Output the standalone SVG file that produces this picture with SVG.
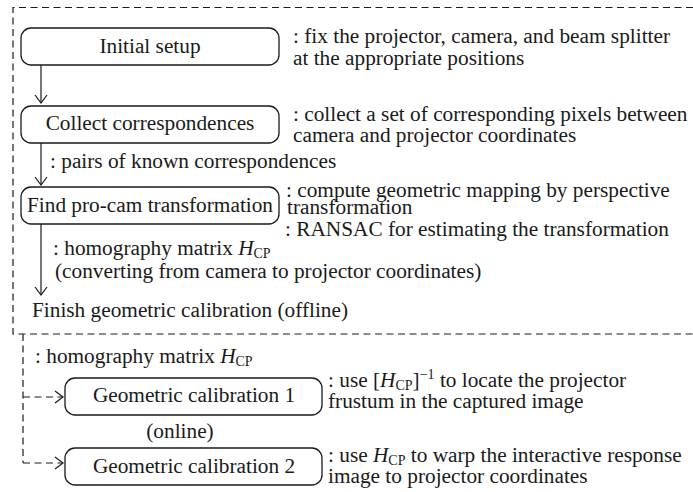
<svg xmlns="http://www.w3.org/2000/svg" width="693" height="492" viewBox="0 0 693 492">
<style>
  text { font-family: "Liberation Serif", "Times New Roman", serif; font-size: 21.3px; fill: #1a1a1a; }
  .box { fill: #ffffff; stroke: #1a1a1a; stroke-width: 1.3; }
  .mid { text-anchor: middle; }
  .edge { fill: none; stroke: #1a1a1a; stroke-width: 1.2; }
  .dash { fill: none; stroke: #1a1a1a; stroke-width: 1.2; stroke-dasharray: 7 4.5; }
  .it { font-style: italic; }
  .sub { font-size: 14px; }
</style>
<defs>
  <marker id="arr" viewBox="-9 -7 11 14" refX="0" refY="0" markerWidth="11" markerHeight="14" markerUnits="userSpaceOnUse" orient="auto" overflow="visible">
    <path d="M -8,-6 L 0,0 L -8,6" fill="none" stroke="#1a1a1a" stroke-width="1.2"/>
  </marker>
</defs>
<rect width="693" height="492" fill="#ffffff"/>

<g id="regions">
  <path class="dash" d="M 693,7.5 H 13 V 334 H 693"/>
</g>

<g id="connectors">
  <line class="edge" x1="41" y1="65" x2="41" y2="103" marker-end="url(#arr)"/>
  <line class="edge" x1="41" y1="143" x2="41" y2="185" marker-end="url(#arr)"/>
  <line class="edge" x1="41" y1="224" x2="41" y2="295" marker-end="url(#arr)"/>
  <path class="dash" d="M 23,334 V 463"/>
  <path class="dash" d="M 23,397 H 63" marker-end="url(#arr)"/>
  <path class="dash" d="M 23,463 H 63" marker-end="url(#arr)"/>
  <text x="50" y="168">: pairs of known correspondences</text>
  <text x="53" y="255">: homography matrix <tspan class="it">H</tspan><tspan class="sub" dy="3">CP</tspan></text>
  <text x="55" y="278">(converting from camera to projector coordinates)</text>
  <text x="35" y="363">: homography matrix <tspan class="it">H</tspan><tspan class="sub" dy="3">CP</tspan></text>
</g>

<g id="initial-setup">
  <rect class="box" x="21" y="28" width="258" height="37" rx="10"/>
  <text class="mid" x="150" y="53">Initial setup</text>
  <text x="293" y="43">: fix the projector, camera, and beam splitter</text>
  <text x="293" y="65">at the appropriate positions</text>
</g>

<g id="collect-correspondences">
  <rect class="box" x="21" y="106" width="258" height="37" rx="10"/>
  <text class="mid" x="150" y="130">Collect correspondences</text>
  <text x="293" y="121">: collect a set of corresponding pixels between</text>
  <text x="293" y="142">camera and projector coordinates</text>
</g>

<g id="find-transformation">
  <rect class="box" x="21" y="187" width="258" height="37" rx="10"/>
  <text class="mid" x="150" y="212">Find pro-cam transformation</text>
  <text x="286" y="197">: compute geometric mapping by perspective</text>
  <text x="287" y="214">transformation</text>
  <text x="285" y="236">: RANSAC for estimating the transformation</text>
</g>

<g id="finish">
  <text x="32" y="317">Finish geometric calibration (offline)</text>
</g>

<g id="geometric-calibration-1">
  <rect class="box" x="65" y="378" width="257" height="37" rx="10"/>
  <text class="mid" x="194" y="402">Geometric calibration 1</text>
  <text x="328" y="387">: use [<tspan class="it">H</tspan><tspan class="sub" dy="3">CP</tspan><tspan dy="-3">]</tspan><tspan class="sub" dy="-8">−1</tspan><tspan dy="8"> to locate the projector</tspan></text>
  <text x="328" y="408">frustum in the captured image</text>
</g>

<g id="online-label">
  <text class="mid" x="180" y="438">(online)</text>
</g>

<g id="geometric-calibration-2">
  <rect class="box" x="65" y="448" width="257" height="37" rx="10"/>
  <text class="mid" x="194" y="473">Geometric calibration 2</text>
  <text x="328" y="462">: use <tspan class="it">H</tspan><tspan class="sub" dy="3">CP</tspan><tspan dy="-3"> to warp the interactive response</tspan></text>
  <text x="328" y="483">image to projector coordinates</text>
</g>
</svg>
